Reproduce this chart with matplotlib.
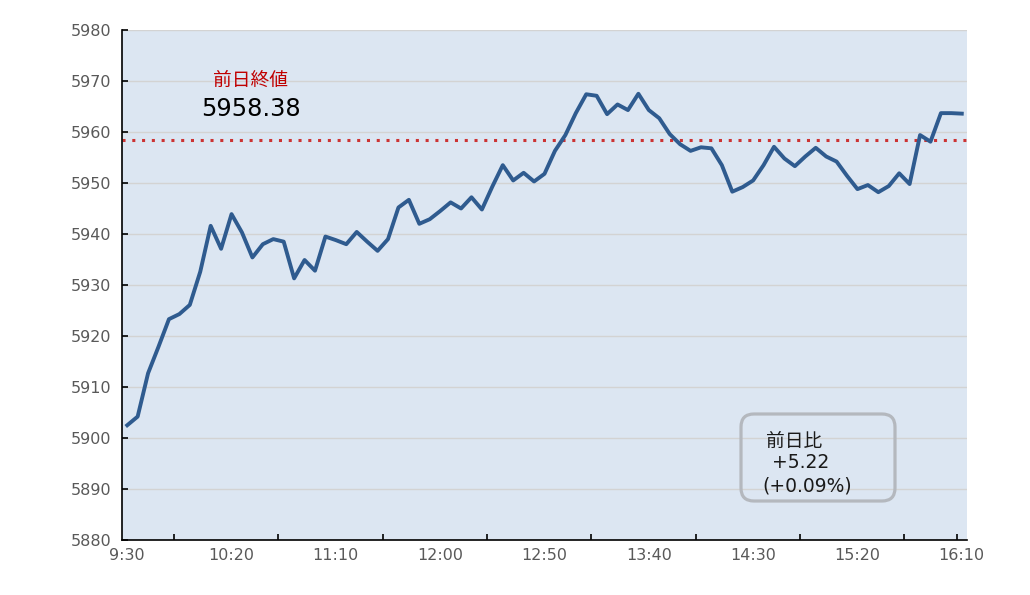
import numpy as np
import matplotlib
matplotlib.use("Agg")
import matplotlib.pyplot as plt
from matplotlib.patches import FancyBboxPatch
from matplotlib.transforms import IdentityTransform

plt.rcParams['font.family'] = ['DejaVu Sans', 'Noto Sans CJK JP']

# 5-minute index prices, 9:30 .. 16:10
prices = [
    5902.5, 5904.2, 5912.7, 5917.9, 5923.3, 5924.3, 5926.1, 5932.6, 5941.6, 5937.1,
    5943.9, 5940.3, 5935.4, 5938.0, 5939.0, 5938.5, 5931.3, 5934.9, 5932.8, 5939.5,
    5938.8, 5938.0, 5940.4, 5938.5, 5936.7, 5939.0, 5945.2, 5946.7, 5942.0, 5942.9,
    5944.5, 5946.2, 5945.0, 5947.2, 5944.8, 5949.3, 5953.5, 5950.5, 5952.0, 5950.3,
    5951.8, 5956.3, 5959.4, 5963.7, 5967.4, 5967.1, 5963.5, 5965.4, 5964.3, 5967.5,
    5964.3, 5962.7, 5959.6, 5957.6, 5956.3, 5957.0, 5956.8, 5953.5, 5948.3, 5949.2,
    5950.5, 5953.5, 5957.1, 5954.8, 5953.3, 5955.2, 5956.9, 5955.2, 5954.2, 5951.4,
    5948.8, 5949.6, 5948.2, 5949.4, 5951.9, 5949.8, 5959.4, 5958.1, 5963.7, 5963.7,
    5963.6,
]
tick_labels = ["9:30", "10:20", "11:10", "12:00", "12:50", "13:40", "14:30", "15:20", "16:10"]
prev_close = 5958.38
change = 5.22
change_pct = 0.09

x = np.arange(len(prices))

fig = plt.figure(figsize=(10.3, 5.95), dpi=100)
ax = fig.add_axes([122 / 1030, 1 - 540 / 595, (967 - 122) / 1030, 510 / 595])
ax.set_facecolor('#dce6f2')

ax.plot(x, prices, color='#2f5b8f', lw=2.8, zorder=3, solid_joinstyle='round')
ax.axhline(prev_close, color='#cc3333', lw=2.2, linestyle=(0, (1, 2.2)), zorder=2)

ax.set_xlim(-0.5, len(prices) - 0.5)
ax.set_ylim(5880, 5980)
ax.set_yticks(np.arange(5880, 5981, 10))
ax.set_xticks(np.arange(0, len(prices), 10))
ax.set_xticklabels(tick_labels)
ax.set_xticks(list(np.arange(4.5, 75, 10)) + [79.5], minor=True)

ax.grid(axis='y', color='#d3d3d3', lw=1.0, zorder=1)
ax.set_axisbelow(True)
ax.tick_params(axis='x', which='major', length=0, pad=6, labelsize=11.5, labelcolor='#595959')
ax.tick_params(axis='x', which='minor', direction='in', length=4, width=1.2, color='black')
ax.tick_params(axis='y', direction='in', length=4, width=1.2, pad=7.5, labelsize=11.5,
               labelcolor='#595959')
for s in ['top', 'right']:
    ax.spines[s].set_visible(False)
for s in ['left', 'bottom']:
    ax.spines[s].set_linewidth(1.2)
    ax.spines[s].set_color('black')

# previous close label
ax.text(0.1515, 0.902, '前日終値', transform=ax.transAxes, ha='center', va='center',
        fontsize=13.5, color='#c00000')
ax.text(0.1527, 0.8457, f'{prev_close:.2f}', transform=ax.transAxes, ha='center',
        va='center', fontsize=17.4, color='black')

# change box (pixel coords)
box = FancyBboxPatch((741, 595 - 501), 154, 87,
                     boxstyle='round,pad=0,rounding_size=13',
                     transform=IdentityTransform(), facecolor='none',
                     edgecolor='#b4b8be', lw=2.3, zorder=4, clip_on=False)
ax.add_artist(box)
fig.text(766 / 1030, 1 - 441 / 595, '前日比', ha='left', va='center', fontsize=13.5,
         color='#1a1a1a')
fig.text(772 / 1030, 1 - 463 / 595, f'+{change:.2f}', ha='left', va='center',
         fontsize=13.5, color='#1a1a1a')
fig.text(762 / 1030, 1 - 486 / 595, f'(+{change_pct:.2f}%)', ha='left', va='center',
         fontsize=13.5, color='#1a1a1a')

fig.savefig('out.png', dpi=100)
